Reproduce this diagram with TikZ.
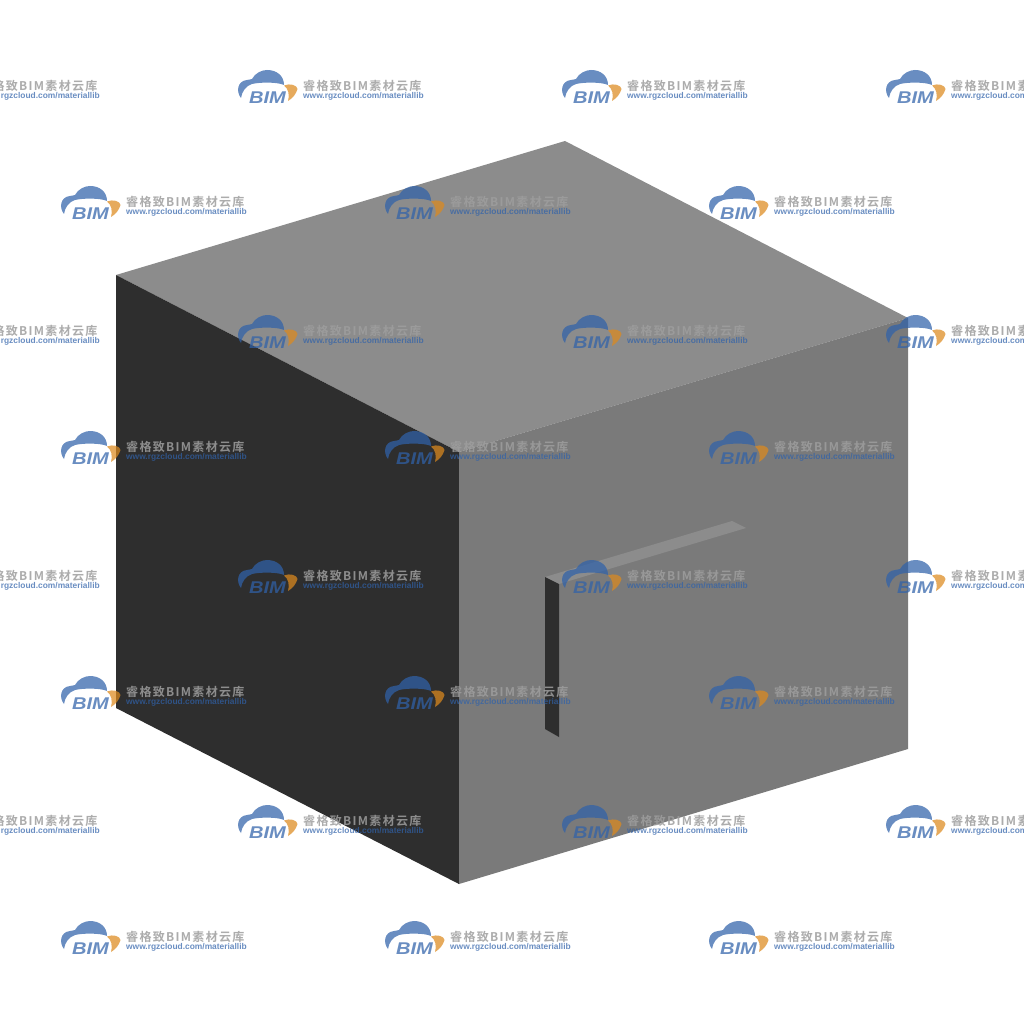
\documentclass[tikz,border=0pt]{standalone}
\usepackage{fontspec}
\setsansfont{Liberation Sans}
\newfontfamily\cjkfont{Noto Sans CJK SC}[BoldFont={* Bold},LetterSpace=11]
\definecolor{topface}{HTML}{8C8C8C}
\definecolor{rightface}{HTML}{7A7A7A}
\definecolor{leftface}{HTML}{2E2E2E}
\definecolor{markblue}{HTML}{3062AA}
\definecolor{markgray}{HTML}{9E9E9E}
\definecolor{markorange}{HTML}{DD8A1E}
\tikzset{
  marktitle/.style={anchor=west,inner sep=0pt,opacity=0.85,text=markgray,font=\cjkfont\bfseries\fontsize{12}{12}\selectfont},
  markurl/.style={anchor=west,inner sep=0pt,text=markblue,font=\sffamily\bfseries\fontsize{8.4}{8.4}\selectfont},
  markbim/.style={inner sep=0pt,xscale=1.18,text=markblue,font=\sffamily\bfseries\itshape\fontsize{17}{17}\selectfont},
}
\newcommand{\bimmark}[3]{%
  \begin{scope}[shift={(#2,#3)},opacity=0.72]
    \fill [markblue] (3,28) .. controls (-2,22) and (-1,11) .. (9,10)
      .. controls (11,9.5) and (13,9.5) .. (14,9)
      .. controls (17,3) and (24,0) .. (29,0)
      .. controls (39,0) and (46,6) .. (46,15)
      .. controls (40,12) and (22,12) .. (14,14)
      .. controls (8,16) and (4,21) .. (3,28) -- cycle;
    \fill [markorange] (46,15.5) .. controls (52,13) and (59,15) .. (59.5,19)
      .. controls (58,24) and (55,28) .. (50,31)
      .. controls (52,25) and (50,18) .. (46,15.5) -- cycle;
    \node [markbim] (#1-bim) at (29.5,28) {BIM};
    \node [marktitle] (#1-title) at (65,16) {睿格致BIM素材云库};
    \node [markurl] (#1-url) at (65,26) {www.rgzcloud.com/materiallib};
  \end{scope}}
\begin{document}
\begin{tikzpicture}[x=1pt,y=-1pt]
  \useasboundingbox (0,0) rectangle (1024,1024);
  \clip (0,0) rectangle (1024,1024);
  \fill [white] (0,0) rectangle (1024,1024);
  \fill [topface] (116,275) -- (565,141) -- (908,318) -- (459,452) -- cycle;
  \fill [leftface] (116,275) -- (459,452) -- (459,884) -- (116,708) -- cycle;
  \fill [rightface] (459,452) -- (908,318) -- (908,749) -- (459,884) -- cycle;
  \fill [topface] (545,577) -- (732,521) -- (746,528) -- (559,584) -- cycle;
  \fill [leftface] (545,577) -- (559,584) -- (559,737) -- (545,729) -- cycle;
  \foreach \y [count=\r] in {70,315,560,805}
    \foreach \x [count=\c] in {-86,238,562,886}
      \bimmark{a\r\c}{\x}{\y};
  \foreach \y [count=\r] in {186,431,676,921}
    \foreach \x [count=\c] in {61,385,709}
      \bimmark{b\r\c}{\x}{\y};
\end{tikzpicture}
\end{document}
